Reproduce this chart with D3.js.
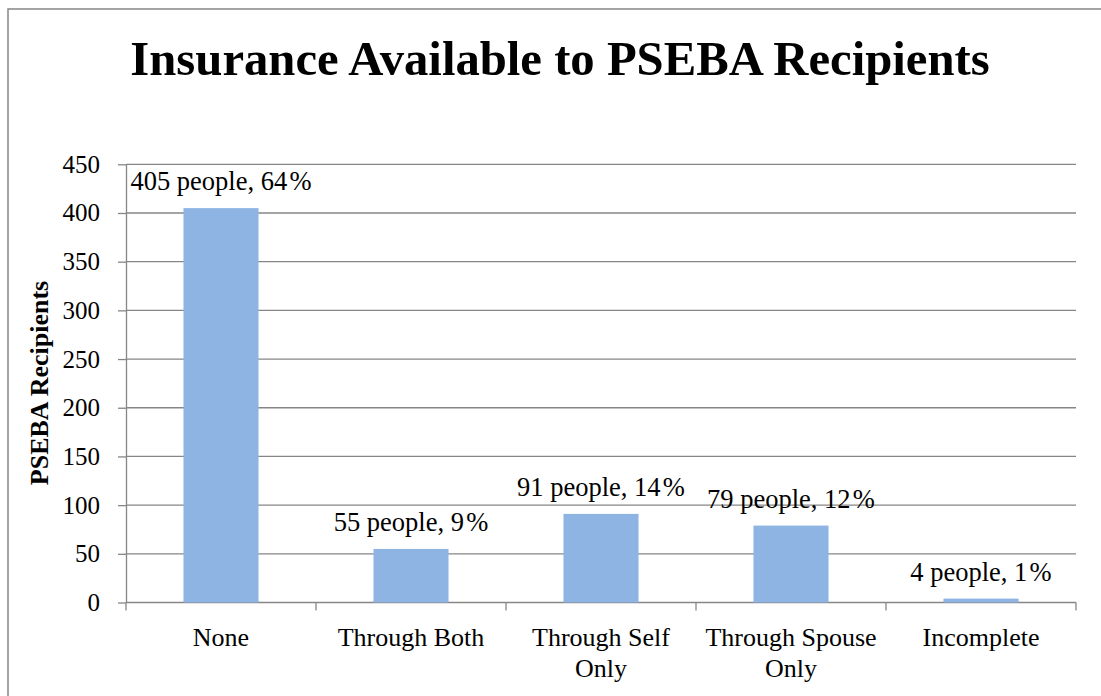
<!DOCTYPE html>
<html lang="en">
<head>
<meta charset="UTF-8" />
<title>Insurance Available to PSEBA Recipients</title>
<script src="https://d3js.org/d3.v7.min.js"></script>
<style>
  body { margin: 0; background: #fff; }
  svg { display: block; font-family: "Liberation Serif", "Times New Roman", serif; }
  .grid line { stroke: #868686; stroke-width: 1.3px; }
  .axis path, .axis line { stroke: #868686; stroke-width: 1.3px; }
  .axis text { fill: #000; font-family: "Liberation Serif", "Times New Roman", serif; }
  .ytick text { font-size: 25px; }
  .cat { font-size: 26px; }
</style>
</head>
<body>
<svg width="1101" height="696"></svg>
<script>
  // data
  const categories = ["None", "Through Both", "Through Self Only", "Through Spouse Only", "Incomplete"];
  const categoryLines = [["None"], ["Through Both"], ["Through Self", "Only"], ["Through Spouse", "Only"], ["Incomplete"]];
  const people = [405, 55, 91, 79, 4];
  const percents = [64, 9, 14, 12, 1];
  const yTicks = [0, 50, 100, 150, 200, 250, 300, 350, 400, 450];

  const svg = d3.select("svg");

  // outer chart frame (runs off right and bottom edges)
  svg.append("rect")
    .attr("x", 8).attr("y", 9)
    .attr("width", 1110).attr("height", 700)
    .attr("fill", "none")
    .attr("stroke", "#868686")
    .attr("stroke-width", 1.5);

  const plotL = 126, plotR = 1076, plotT = 164.3, plotB = 602.5;

  const x = d3.scaleBand().domain(categories).range([plotL, plotR]).paddingInner(0.605).paddingOuter(0.3025);
  const y = d3.scaleLinear().domain([0, 450]).range([plotB, plotT]);

  // gridlines
  svg.append("g").attr("class", "grid")
    .selectAll("line")
    .data(yTicks.filter(d => d > 0))
    .join("line")
    .attr("x1", plotL).attr("x2", plotR)
    .attr("y1", d => y(d)).attr("y2", d => y(d));

  // y axis
  const yAxis = svg.append("g").attr("class", "axis ytick")
    .attr("transform", `translate(${plotL},0)`)
    .call(d3.axisLeft(y).tickValues(yTicks).tickSize(8).tickPadding(18).tickSizeOuter(0));
  yAxis.attr("font-family", null).attr("font-size", null);

  // x axis baseline + category separators
  const xg = svg.append("g").attr("class", "axis");
  xg.append("line").attr("x1", plotL).attr("x2", plotR).attr("y1", plotB).attr("y2", plotB);
  const step = x.step();
  xg.selectAll("line.sep")
    .data(d3.range(categories.length + 1))
    .join("line")
    .attr("class", "sep")
    .attr("x1", i => plotL + i * step).attr("x2", i => plotL + i * step)
    .attr("y1", plotB).attr("y2", plotB + 8);

  // category labels
  const catText = xg.selectAll("text.cat")
    .data(categories)
    .join("text")
    .attr("class", "cat")
    .attr("text-anchor", "middle")
    .attr("x", d => x(d) + x.bandwidth() / 2)
    .attr("y", 646);
  catText.selectAll("tspan")
    .data((d, i) => categoryLines[i])
    .join("tspan")
    .attr("x", function () { return d3.select(this.parentNode).attr("x"); })
    .attr("dy", (d, i) => i === 0 ? 0 : 31)
    .text(d => d);

  // bars
  svg.append("g")
    .selectAll("rect")
    .data(categories)
    .join("rect")
    .attr("x", d => x(d))
    .attr("width", x.bandwidth())
    .attr("y", (d, i) => y(people[i]))
    .attr("height", (d, i) => plotB - y(people[i]))
    .attr("fill", "#8eb4e3");

  // data labels
  svg.append("g")
    .selectAll("text")
    .data(categories)
    .join("text")
    .attr("text-anchor", "middle")
    .attr("x", d => x(d) + x.bandwidth() / 2)
    .attr("y", (d, i) => y(people[i]) - 18)
    .attr("font-size", 26.5)
    .text((d, i) => `${people[i]} people, ${percents[i]}\u200a%`);

  // y axis title
  svg.append("text")
    .attr("transform", "translate(48,383) rotate(-90)")
    .attr("text-anchor", "middle")
    .attr("font-size", 26)
    .attr("font-weight", "bold")
    .text("PSEBA Recipients");

  // chart title
  svg.append("text")
    .attr("x", 560).attr("y", 75)
    .attr("text-anchor", "middle")
    .attr("font-size", 48.7)
    .attr("font-weight", "bold")
    .text("Insurance Available to PSEBA Recipients");
</script>
</body>
</html>
